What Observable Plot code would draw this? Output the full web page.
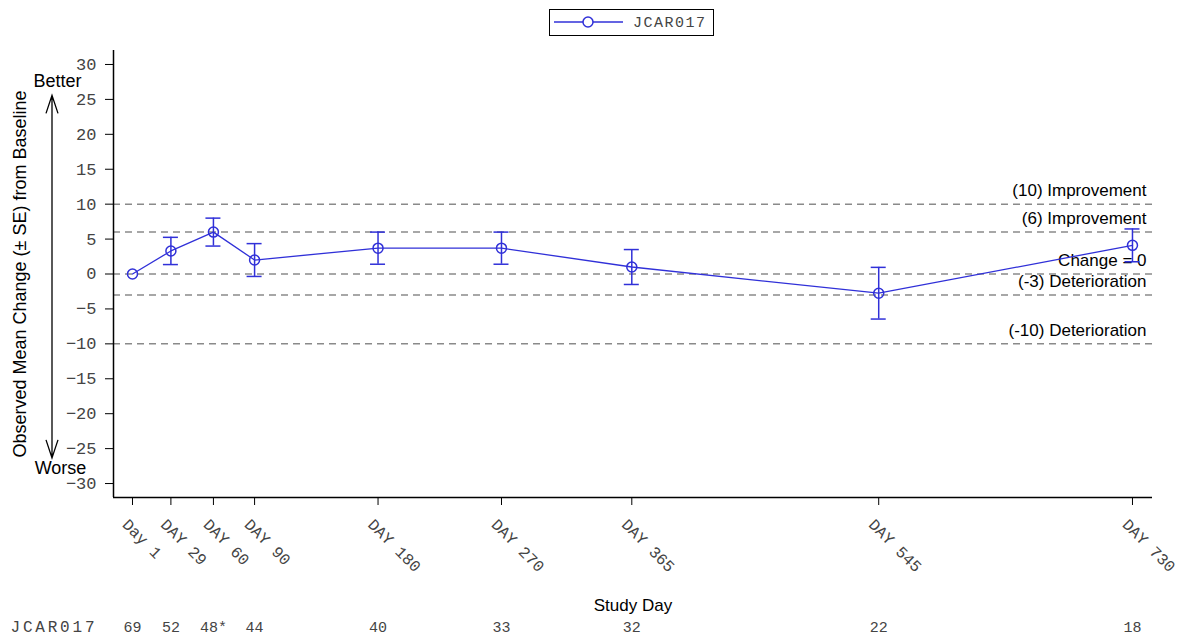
<!DOCTYPE html>
<html><head><meta charset="utf-8">
<script src="https://cdn.jsdelivr.net/npm/d3@7"></script>
<script src="https://cdn.jsdelivr.net/npm/@observablehq/plot@0.6"></script>
<style>
body{margin:0;background:#fff;}
#wrap{position:relative;width:1184px;height:639px;overflow:hidden;}
#legend{position:absolute;left:549px;top:9px;width:165px;height:27px;box-sizing:border-box;border:1.5px solid #000;background:#fff;}
g[aria-label="y-axis tick label"] text{fill:#444;}
</style></head><body><div id="wrap"><div id="chart"></div><div id="legend"></div></div>
<script>
// ---- data ----
const days = [1, 29, 60, 90, 180, 270, 365, 545, 730];
const tickLabels = ["Day 1", "DAY 29", "DAY 60", "DAY 90", "DAY 180", "DAY 270", "DAY 365", "DAY 545", "DAY 730"];
const means = [0, 3.3, 6.0, 2.0, 3.7, 3.7, 1.0, -2.75, 4.1];
const seValues = [0, 1.95, 2.0, 2.35, 2.3, 2.3, 2.5, 3.7, 2.35];
const counts = ["69", "52", "48*", "44", "40", "33", "32", "22", "18"];
const refValues = [10, 6, 0, -3, -10];
const refLabels = ["(10) Improvement", "(6) Improvement", "Change = 0", "(-3) Deterioration", "(-10) Deterioration"];
const yTicks = [-30, -25, -20, -15, -10, -5, 0, 5, 10, 15, 20, 25, 30];
const xDomain = [-12.85, 744.6];
const yDomain = [-32, 32];
const arrowEnds = [25.5, -26.4];
const seriesName = "JCAR017";
const yLabel = "Observed Mean Change (\u00b1 SE) from Baseline";
const xLabel = "Study Day";

// ---- chart ----
const W = 1184, H = 639;
const mono = "'Liberation Mono','Courier New',monospace";
const sans = "'Liberation Sans',Arial,sans-serif";
const blue = "#3030d8";
const data = days.map((d, i) => ({day: d, mean: means[i], se: seValues[i], label: tickLabels[i], n: counts[i]}));
const bars = data.filter(d => d.se > 0);
const refs = refValues.map((v, i) => ({v, label: refLabels[i]}));

const arrowMark = (index, scales, values, dims) => {
  const x = dims.marginLeft - 61;
  const y1 = scales.y(arrowEnds[0]), y2 = scales.y(arrowEnds[1]);
  const g = d3.create("svg:g").attr("fill", "none").attr("stroke", "#000").attr("stroke-width", 1.3);
  g.append("path").attr("d",
    `M${x},${y1}V${y2}M${x-6},${y1+18}L${x},${y1}L${x+6},${y1+18}M${x-6},${y2-18}L${x},${y2}L${x+6},${y2-18}`);
  return g.node();
};

const chart = Plot.plot({
  width: W, height: H,
  marginLeft: 113, marginRight: 32, marginTop: 50, marginBottom: 142,
  x: {domain: xDomain, axis: null},
  y: {domain: yDomain, axis: null},
  style: {fontFamily: sans, background: "white", overflow: "visible", color: "#000"},
  marks: [
    Plot.ruleY(refs, {y: "v", stroke: "#8a8a8a", strokeWidth: 1.5, strokeDasharray: "7,5"}),
    Plot.text(refs, {y: "v", text: "label", frameAnchor: "right", textAnchor: "end", lineAnchor: "bottom", dx: -6, dy: -8, fontSize: 17, fill: "#000"}),
    Plot.ruleX(bars, {x: "day", y1: d => d.mean - d.se, y2: d => d.mean + d.se, stroke: blue, strokeWidth: 1.5}),
    Plot.ruleY(bars, {y: d => d.mean + d.se, x1: "day", x2: "day", insetLeft: -7.5, insetRight: -7.5, stroke: blue, strokeWidth: 1.5}),
    Plot.ruleY(bars, {y: d => d.mean - d.se, x1: "day", x2: "day", insetLeft: -7.5, insetRight: -7.5, stroke: blue, strokeWidth: 1.5}),
    Plot.line(data, {x: "day", y: "mean", stroke: blue, strokeWidth: 1.3}),
    Plot.dot(data, {x: "day", y: "mean", r: 5, stroke: blue, strokeWidth: 1.5, fill: "none"}),
    Plot.ruleX([xDomain[0]], {x: d => d, stroke: "#000", strokeWidth: 1.5}),
    Plot.ruleY([yDomain[0]], {y: d => d, stroke: "#000", strokeWidth: 1.5}),
    Plot.axisY({ticks: yTicks, tickSize: 8, tickPadding: 9, fontFamily: mono, fontSize: 17, label: null}),
    Plot.axisX({ticks: days, tickSize: 8, tickFormat: () => "", label: null}),
    Plot.text(data, {x: "day", text: "label", frameAnchor: "bottom", rotate: 45, textAnchor: "start", lineAnchor: "top", dx: -3, dy: 20, fontFamily: mono, fontSize: 16, fill: "#444"}),
    Plot.text(data, {x: "day", text: "n", frameAnchor: "bottom", dy: 134, fontFamily: mono, fontSize: 15, fill: "#444"}),
    Plot.text([seriesName], {text: d => d, frameAnchor: "bottom-left", textAnchor: "start", dx: -103, dy: 134, fontFamily: mono, fontSize: 16, fill: "#444"}),
    Plot.text([xLabel], {text: d => d, frameAnchor: "bottom", textAnchor: "middle", dy: 113, fontSize: 17, fill: "#000"}),
    Plot.text([yLabel], {text: d => d, frameAnchor: "left", textAnchor: "middle", lineAnchor: "middle", rotate: -90, dx: -93, fontSize: 18, fill: "#000"}),
    Plot.text(["Better"], {text: d => d, frameAnchor: "top-left", textAnchor: "middle", lineAnchor: "middle", dx: -56, dy: 31, fontSize: 18, fill: "#000"}),
    Plot.text(["Worse"], {text: d => d, frameAnchor: "bottom-left", textAnchor: "middle", lineAnchor: "middle", dx: -53, dy: -29, fontSize: 18, fill: "#000"}),
    arrowMark
  ]
});
d3.select(chart).selectAll("text").filter(function () { return this.textContent === seriesName; }).attr("letter-spacing", 2.8);
document.getElementById("chart").appendChild(chart);

// ---- legend ----
const lg = d3.select("#legend").append("svg").attr("width", 162).attr("height", 24).style("display", "block");
lg.append("line").attr("x1", 4).attr("x2", 73).attr("y1", 12).attr("y2", 12).attr("stroke", blue).attr("stroke-width", 1.5);
lg.append("circle").attr("cx", 38).attr("cy", 12).attr("r", 5).attr("fill", "white").attr("stroke", blue).attr("stroke-width", 1.5);
lg.append("text").attr("x", 83).attr("y", 17).text(seriesName).attr("font-family", mono).attr("font-size", 15).attr("letter-spacing", 1.5).attr("fill", "#444");
</script></body></html>
